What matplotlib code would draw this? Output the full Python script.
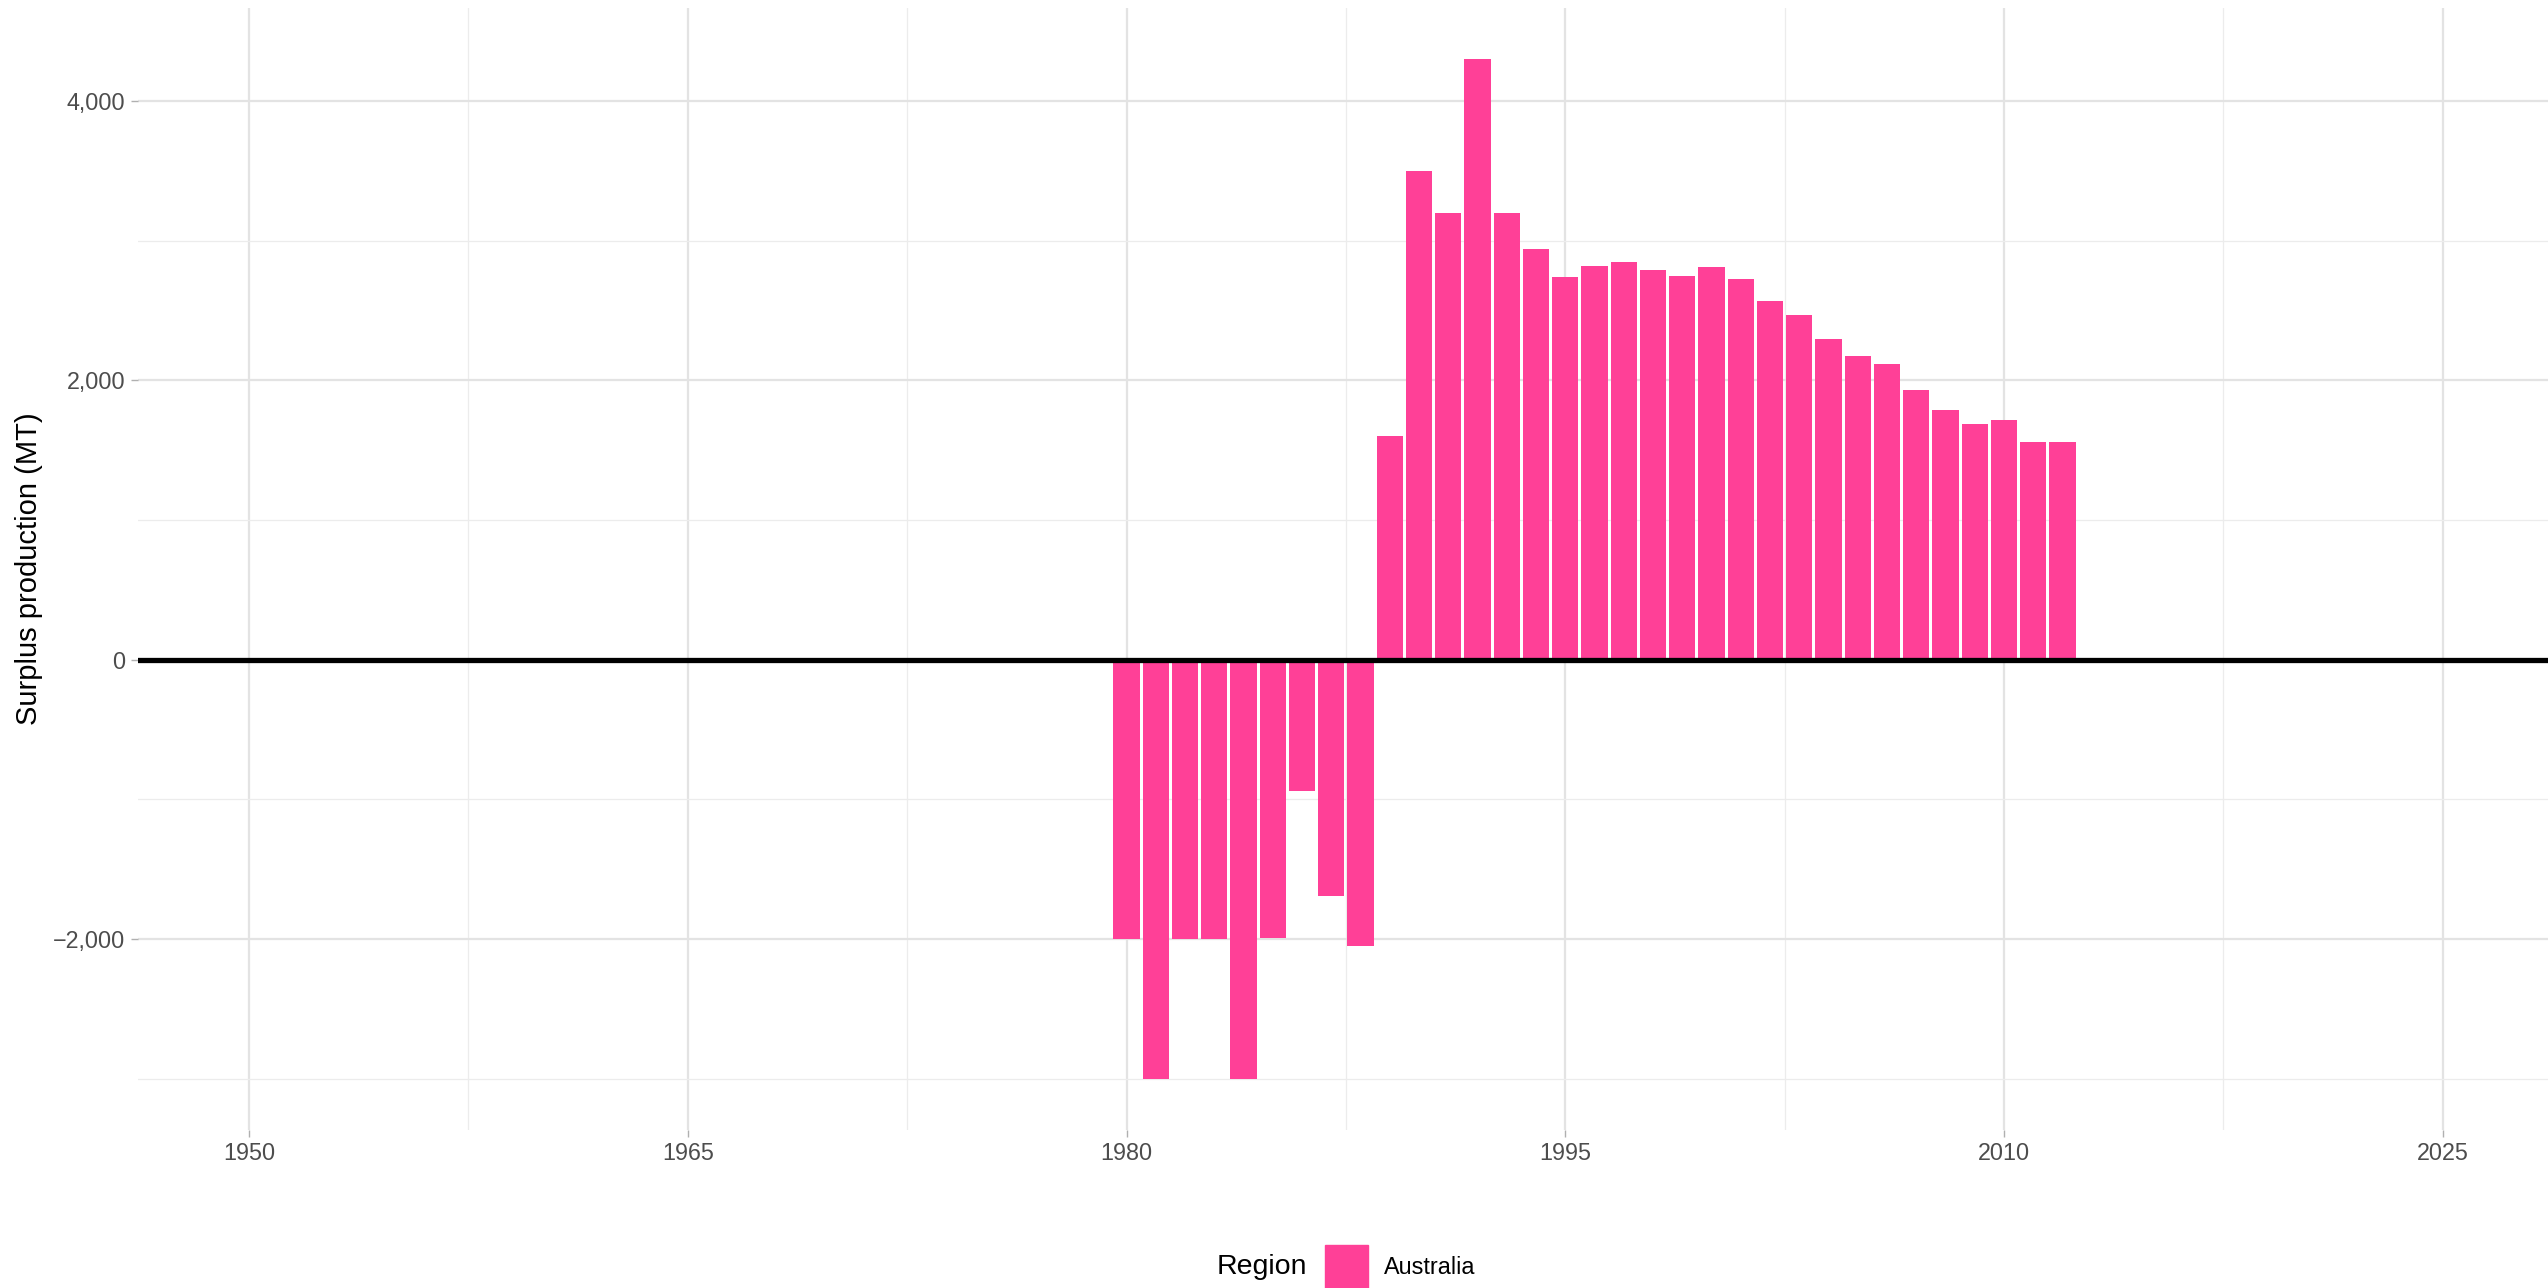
import numpy as np
import matplotlib; matplotlib.use("Agg")
import matplotlib.pyplot as plt
from matplotlib.patches import Rectangle
from matplotlib.ticker import FuncFormatter, MultipleLocator

# surplus production per year, Australia (MT)
years = list(range(1980, 2013))
surplus = [-2000, -3000, -2000, -2000, -3000, -1990, -940, -1690, -2050,
           1600, 3500, 3200, 4300, 3200, 2940, 2740, 2820, 2850, 2790, 2745,
           2810, 2725, 2565, 2470, 2293, 2170, 2114, 1927, 1789, 1690, 1713,
           1555, 1561]
region = "Australia"
bar_color = "#FF4097"

plt.rcParams['font.family'] = ['Liberation Sans', 'DejaVu Sans']

fig = plt.figure(figsize=(25.48, 12.88), dpi=100)
ax = fig.add_axes([138/2548, 1 - 1129.6/1288, 1 - 138/2548, (1129.6 - 8)/1288])

ax.bar(years, surplus, width=0.9, color=bar_color, zorder=2)
ax.axhline(0, color="black", lw=3.8, zorder=3)

ax.set_xlim(1946.2, 2028.6)
ax.set_ylim(-3365, 4665)
ax.xaxis.set_major_locator(MultipleLocator(15))
ax.xaxis.set_minor_locator(MultipleLocator(7.5))
ax.yaxis.set_major_locator(MultipleLocator(2000))
ax.yaxis.set_minor_locator(MultipleLocator(1000))
ax.yaxis.set_major_formatter(FuncFormatter(lambda v, p: f"{int(v):,}".replace("-", "\u2212")))

ax.grid(which="major", color="#e3e3e3", lw=1.6, zorder=0)
ax.grid(which="minor", color="#ececec", lw=0.9, zorder=0)
ax.set_axisbelow(True)
for s in ax.spines.values():
    s.set_visible(False)
ax.tick_params(which="major", length=5, width=1.0, color="#b0b0b0",
               labelsize=16.8, labelcolor="#4d4d4d", pad=4)
ax.tick_params(which="minor", length=0)

ax.set_ylabel("Surplus production (MT)", fontsize=21, color="black", va="center")
ax.yaxis.set_label_coords(-0.0452, 0.5)

# legend at bottom centre
fig.text(1307/2548, 1 - 1267/1288, "Region", fontsize=20.5, ha="right", va="center")
fig.patches.append(Rectangle((1325/2548, 0), 43/2548, 43/1288, transform=fig.transFigure,
                             color=bar_color))
fig.text(1384/2548, 1 - 1267/1288, region, fontsize=16.8, ha="left", va="center")

fig.savefig("out.png", dpi=100)
